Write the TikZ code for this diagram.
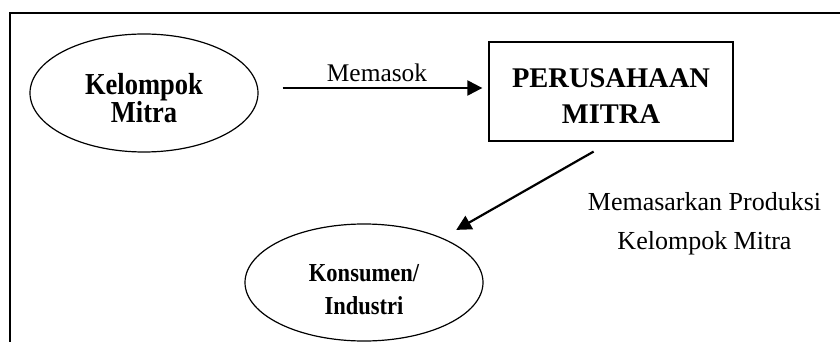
\documentclass[tikz,border=0pt]{standalone}
\usepackage{fontspec}
\setmainfont{Liberation Serif}
\usetikzlibrary{shapes.geometric,arrows.meta}

% stretch bold labels a little in height
\newcommand{\tallline}[1]{\scalebox{1}[1.15]{#1}}

\tikzset{
  frameline/.style={line width=1.5pt},
  oval/.style={ellipse, draw, line width=1.2pt, inner sep=0pt},
  firmbox/.style={rectangle, draw, line width=1.3pt, inner sep=0pt,
                  minimum width=244pt, minimum height=99pt},
  flow/.style={line width=2.2pt, -{Triangle[length=15pt,width=15pt]}},
  ovaltext/.style={align=center, inner sep=0pt},
  flowtext/.style={align=center, inner sep=0pt,
                   font=\fontsize{26}{39}\selectfont},
}

\begin{document}
\begin{tikzpicture}[x=1pt,y=-1pt]
  \useasboundingbox (0,0) rectangle (840,342);

  % outer frame, running off the right and bottom edges
  \begin{scope}
    \clip (0,0) rectangle (840,342);
    \draw[frameline] (10,400) -- (10,13) -- (900,13);
  \end{scope}

  % shapes
  \node[oval, minimum width=228pt, minimum height=118pt] (kel) at (144,93) {};
  \node[firmbox] (pm) at (611,91.5) {};
  \node[oval, minimum width=238pt, minimum height=117pt] (kon) at (364,282.5) {};

  % texts inside the shapes
  \node[ovaltext, font=\fontsize{26.5}{28}\selectfont\bfseries] (kelt) at (144,98.5)
    {\tallline{Kelompok}\\\tallline{Mitra}};
  \node[ovaltext, font=\fontsize{28.5}{36}\selectfont\bfseries] (pmt) at (611,96.3)
    {PERUSAHAAN\\MITRA};
  \node[ovaltext, font=\fontsize{22.5}{33}\selectfont\bfseries] (kont) at (364,290)
    {\tallline{Konsumen/}\\\tallline{Industri}};

  % connectors
  \draw[flow, shorten <=24pt, shorten >=6pt]
    ([yshift=5pt]kel.east) -- ([yshift=3.5pt]pm.west);
  \draw[flow, shorten <=20pt, shorten >=16pt] (pm.south) -- (kon);

  % connector labels
  \node[anchor=base, inner sep=0pt, font=\fontsize{25.4}{30}\selectfont] (sup) at (377,82) {Memasok};
  \node[flowtext] (mkt) at (704.5,223.4) {Memasarkan Produksi\\Kelompok Mitra};
\end{tikzpicture}
\end{document}
